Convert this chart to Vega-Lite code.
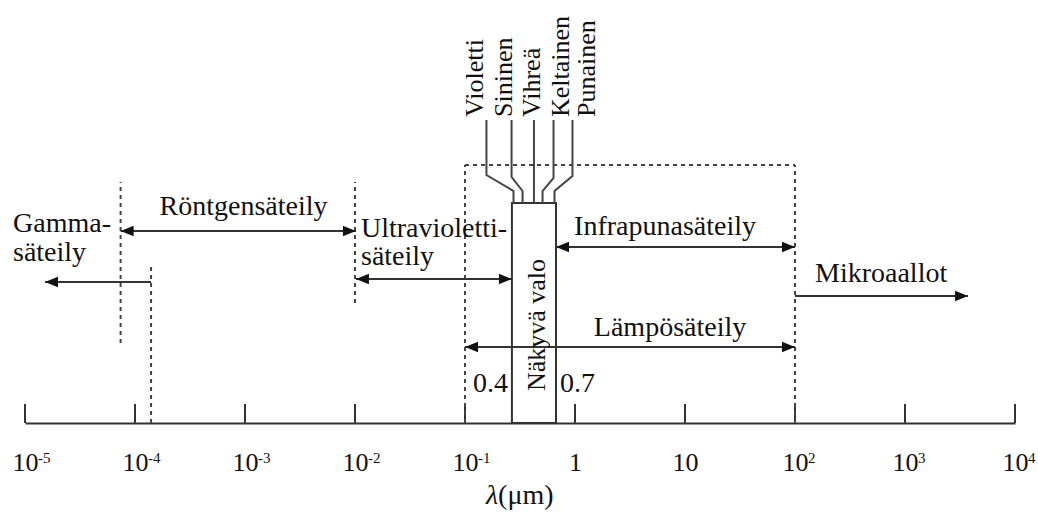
{
  "$schema": "https://vega.github.io/schema/vega-lite/v6.json",
  "width": 990,
  "height": 423,
  "autosize": {"type": "none"},
  "padding": {"left": 25, "right": 23, "top": 0, "bottom": 91},
  "background": "white",
  "config": {"view": {"stroke": null}},
  "datasets": {
    "ticks": [{"x": 1e-5}, {"x": 1e-4}, {"x": 1e-3}, {"x": 1e-2}, {"x": 1e-1}, {"x": 1}, {"x": 10}, {"x": 100}, {"x": 1000}, {"x": 10000}],
    "exponents": [
      {"x": 1e-5, "exp": "-5"}, {"x": 1e-4, "exp": "-4"}, {"x": 1e-3, "exp": "-3"}, {"x": 1e-2, "exp": "-2"}, {"x": 1e-1, "exp": "-1"},
      {"x": 100, "exp": "2"}, {"x": 1000, "exp": "3"}, {"x": 10000, "exp": "4"}
    ],
    "dashed": [
      {"x1": 7.4e-5, "x2": 7.4e-5, "h1": 80, "h2": 241},
      {"x1": 1.4e-4, "x2": 1.4e-4, "h1": 0, "h2": 160},
      {"x1": 0.01, "x2": 0.01, "h1": 120, "h2": 241},
      {"x1": 0.1, "x2": 0.1, "h1": 0, "h2": 258},
      {"x1": 100, "x2": 100, "h1": 0, "h2": 258},
      {"x1": 0.1, "x2": 100, "h1": 258, "h2": 258}
    ],
    "arrows": [
      {"name": "Röntgen", "lo": 7.4e-5, "hi": 0.0102, "h": 192, "ends": "both"},
      {"name": "Gamma", "lo": 1.52e-5, "hi": 1.4e-4, "h": 141, "ends": "lo"},
      {"name": "UV", "lo": 0.0102, "hi": 0.267, "h": 144, "ends": "both"},
      {"name": "IR", "lo": 0.672, "hi": 100, "h": 176, "ends": "both"},
      {"name": "Lämpö", "lo": 0.1, "hi": 100, "h": 76, "ends": "both"},
      {"name": "Mikro", "lo": 100, "hi": 3741, "h": 127, "ends": "hi"}
    ],
    "colorlines": [
      {"name": "Violetti", "step": 1, "x": 0.1567, "h": 303},
      {"name": "Violetti", "step": 2, "x": 0.1567, "h": 248},
      {"name": "Violetti", "step": 3, "x": 0.276, "h": 232},
      {"name": "Violetti", "step": 4, "x": 0.276, "h": 220},
      {"name": "Sininen", "step": 1, "x": 0.265, "h": 303},
      {"name": "Sininen", "step": 2, "x": 0.265, "h": 246},
      {"name": "Sininen", "step": 3, "x": 0.3335, "h": 232},
      {"name": "Sininen", "step": 4, "x": 0.3335, "h": 220},
      {"name": "Vihreä", "step": 1, "x": 0.4236, "h": 303},
      {"name": "Vihreä", "step": 2, "x": 0.4236, "h": 220},
      {"name": "Keltainen", "step": 1, "x": 0.638, "h": 303},
      {"name": "Keltainen", "step": 2, "x": 0.638, "h": 245},
      {"name": "Keltainen", "step": 3, "x": 0.507, "h": 232},
      {"name": "Keltainen", "step": 4, "x": 0.507, "h": 220},
      {"name": "Punainen", "step": 1, "x": 0.9485, "h": 303},
      {"name": "Punainen", "step": 2, "x": 0.9485, "h": 247},
      {"name": "Punainen", "step": 3, "x": 0.651, "h": 232},
      {"name": "Punainen", "step": 4, "x": 0.651, "h": 220}
    ],
    "box": [{"x1": 0.267, "x2": 0.672, "h1": 0, "h2": 220}],
    "leftText": [
      {"label": "Gamma-", "x": 7.78e-6, "h": 191},
      {"label": "säteily", "x": 7.78e-6, "h": 162},
      {"label": "Ultravioletti-", "x": 0.01134, "h": 186},
      {"label": "säteily", "x": 0.01134, "h": 158},
      {"label": "0.4", "x": 0.1183, "h": 31},
      {"label": "0.7", "x": 0.731, "h": 31},
      {"label": "Mikroaallot", "x": 152, "h": 141}
    ],
    "centerText": [
      {"label": "Röntgensäteily", "x": 9.69e-4, "h": 208},
      {"label": "Infrapunasäteily", "x": 6.58, "h": 188},
      {"label": "Lämpösäteily", "x": 7.31, "h": 87}
    ],
    "colorText": [
      {"label": "Violetti", "x": 0.1459, "h": 306},
      {"label": "Sininen", "x": 0.2647, "h": 306},
      {"label": "Vihreä", "x": 0.481, "h": 306},
      {"label": "Keltainen", "x": 0.882, "h": 306},
      {"label": "Punainen", "x": 1.52, "h": 306}
    ],
    "boxText": [{"label": "Näkyvä valo", "x": 0.533, "h": 98}],
    "lambda": [{"label": "λ", "x": 0.2, "h": -81}],
    "unit": [{"label": "(μm)", "x": 0.2, "h": -81}]
  },
  "layer": [
    {
      "data": {"name": "ticks"},
      "mark": {"type": "rule", "stroke": "#333", "strokeWidth": 2},
      "encoding": {
        "x": {
          "field": "x", "type": "quantitative", "title": null,
          "scale": {"type": "log", "domain": [1e-5, 10000], "nice": false},
          "axis": {
            "orient": "bottom",
            "values": [1e-5, 1e-4, 1e-3, 1e-2, 1e-1, 1, 10, 100, 1000, 10000],
            "labelExpr": "round(log(datum.value)/LN10) == 0 ? '1' : '10'",
            "ticks": false, "grid": false, "domain": true,
            "domainColor": "#333", "domainWidth": 2,
            "labelFont": "Liberation Serif", "labelFontSize": 26, "labelColor": "#111",
            "labelBaseline": "alphabetic", "labelPadding": 47,
            "labelFlush": false, "labelOverlap": false, "labelBound": false,
            "title": null
          }
        },
        "y": {"datum": 0, "type": "quantitative", "scale": {"domain": [0, 423], "nice": false, "zero": false}, "axis": null},
        "y2": {"datum": 19}
      }
    },
    {
      "data": {"name": "exponents"},
      "mark": {"type": "text", "align": "left", "baseline": "alphabetic", "font": "Liberation Serif", "fontSize": 15, "color": "#111", "dx": 13},
      "encoding": {
        "x": {"field": "x", "type": "quantitative", "title": null, "scale": {"type": "log", "domain": [1e-5, 10000], "nice": false}},
        "y": {"datum": -40, "type": "quantitative", "scale": {"domain": [0, 423], "nice": false, "zero": false}, "axis": null},
        "text": {"field": "exp"}
      }
    },
    {
      "data": {"name": "dashed"},
      "mark": {"type": "rule", "stroke": "#444", "strokeWidth": 2, "strokeDash": [4, 4]},
      "encoding": {
        "x": {"field": "x1", "type": "quantitative", "title": null, "scale": {"type": "log", "domain": [1e-5, 10000], "nice": false}},
        "x2": {"field": "x2"},
        "y": {"field": "h1", "type": "quantitative", "scale": {"domain": [0, 423], "nice": false, "zero": false}, "axis": null},
        "y2": {"field": "h2"}
      }
    },
    {
      "data": {"name": "box"},
      "mark": {"type": "rect", "fillOpacity": 0, "stroke": "#333", "strokeWidth": 2},
      "encoding": {
        "x": {"field": "x1", "type": "quantitative", "title": null, "scale": {"type": "log", "domain": [1e-5, 10000], "nice": false}},
        "x2": {"field": "x2"},
        "y": {"field": "h1", "type": "quantitative", "scale": {"domain": [0, 423], "nice": false, "zero": false}, "axis": null},
        "y2": {"field": "h2"}
      }
    },
    {
      "data": {"name": "colorlines"},
      "mark": {"type": "line", "stroke": "#444", "strokeWidth": 2},
      "encoding": {
        "x": {"field": "x", "type": "quantitative", "title": null, "scale": {"type": "log", "domain": [1e-5, 10000], "nice": false}},
        "y": {"field": "h", "type": "quantitative", "scale": {"domain": [0, 423], "nice": false, "zero": false}, "axis": null},
        "detail": {"field": "name"},
        "order": {"field": "step"}
      }
    },
    {
      "data": {"name": "arrows"},
      "mark": {"type": "rule", "stroke": "#333", "strokeWidth": 2},
      "encoding": {
        "x": {"field": "lo", "type": "quantitative", "title": null, "scale": {"type": "log", "domain": [1e-5, 10000], "nice": false}},
        "x2": {"field": "hi"},
        "y": {"field": "h", "type": "quantitative", "scale": {"domain": [0, 423], "nice": false, "zero": false}, "axis": null}
      }
    },
    {
      "data": {"name": "arrows"},
      "transform": [{"filter": "datum.ends != 'hi'"}],
      "mark": {"type": "point", "shape": "M0,0L1,-0.4L1,0.4Z", "size": 676, "filled": true, "fill": "#111", "opacity": 1, "strokeWidth": 0},
      "encoding": {
        "x": {"field": "lo", "type": "quantitative", "title": null, "scale": {"type": "log", "domain": [1e-5, 10000], "nice": false}},
        "y": {"field": "h", "type": "quantitative", "scale": {"domain": [0, 423], "nice": false, "zero": false}, "axis": null}
      }
    },
    {
      "data": {"name": "arrows"},
      "transform": [{"filter": "datum.ends != 'lo'"}],
      "mark": {"type": "point", "shape": "M0,0L-1,-0.4L-1,0.4Z", "size": 676, "filled": true, "fill": "#111", "opacity": 1, "strokeWidth": 0},
      "encoding": {
        "x": {"field": "hi", "type": "quantitative", "title": null, "scale": {"type": "log", "domain": [1e-5, 10000], "nice": false}},
        "y": {"field": "h", "type": "quantitative", "scale": {"domain": [0, 423], "nice": false, "zero": false}, "axis": null}
      }
    },
    {
      "data": {"name": "leftText"},
      "mark": {"type": "text", "align": "left", "baseline": "alphabetic", "font": "Liberation Serif", "fontSize": 28, "color": "#111"},
      "encoding": {
        "x": {"field": "x", "type": "quantitative", "title": null, "scale": {"type": "log", "domain": [1e-5, 10000], "nice": false}},
        "y": {"field": "h", "type": "quantitative", "scale": {"domain": [0, 423], "nice": false, "zero": false}, "axis": null},
        "text": {"field": "label"}
      }
    },
    {
      "data": {"name": "centerText"},
      "mark": {"type": "text", "align": "center", "baseline": "alphabetic", "font": "Liberation Serif", "fontSize": 28, "color": "#111"},
      "encoding": {
        "x": {"field": "x", "type": "quantitative", "title": null, "scale": {"type": "log", "domain": [1e-5, 10000], "nice": false}},
        "y": {"field": "h", "type": "quantitative", "scale": {"domain": [0, 423], "nice": false, "zero": false}, "axis": null},
        "text": {"field": "label"}
      }
    },
    {
      "data": {"name": "colorText"},
      "mark": {"type": "text", "angle": 270, "align": "left", "baseline": "alphabetic", "font": "Liberation Serif", "fontSize": 26, "color": "#111"},
      "encoding": {
        "x": {"field": "x", "type": "quantitative", "title": null, "scale": {"type": "log", "domain": [1e-5, 10000], "nice": false}},
        "y": {"field": "h", "type": "quantitative", "scale": {"domain": [0, 423], "nice": false, "zero": false}, "axis": null},
        "text": {"field": "label"}
      }
    },
    {
      "data": {"name": "boxText"},
      "mark": {"type": "text", "angle": 270, "align": "center", "baseline": "alphabetic", "font": "Liberation Serif", "fontSize": 26, "color": "#111"},
      "encoding": {
        "x": {"field": "x", "type": "quantitative", "title": null, "scale": {"type": "log", "domain": [1e-5, 10000], "nice": false}},
        "y": {"field": "h", "type": "quantitative", "scale": {"domain": [0, 423], "nice": false, "zero": false}, "axis": null},
        "text": {"field": "label"}
      }
    },
    {
      "data": {"name": "lambda"},
      "mark": {"type": "text", "align": "right", "baseline": "alphabetic", "font": "Liberation Serif", "fontSize": 28, "fontStyle": "italic", "color": "#111"},
      "encoding": {
        "x": {"field": "x", "type": "quantitative", "title": null, "scale": {"type": "log", "domain": [1e-5, 10000], "nice": false}},
        "y": {"field": "h", "type": "quantitative", "scale": {"domain": [0, 423], "nice": false, "zero": false}, "axis": null},
        "text": {"field": "label"}
      }
    },
    {
      "data": {"name": "unit"},
      "mark": {"type": "text", "align": "left", "baseline": "alphabetic", "font": "Liberation Serif", "fontSize": 28, "color": "#111"},
      "encoding": {
        "x": {"field": "x", "type": "quantitative", "title": null, "scale": {"type": "log", "domain": [1e-5, 10000], "nice": false}},
        "y": {"field": "h", "type": "quantitative", "scale": {"domain": [0, 423], "nice": false, "zero": false}, "axis": null},
        "text": {"field": "label"}
      }
    }
  ]
}
